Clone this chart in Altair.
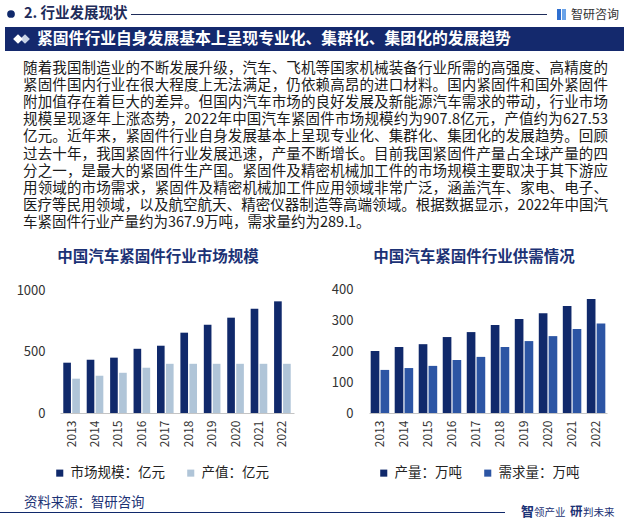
import altair as alt
import pandas as pd

# ---------------- data ----------------
years = [str(y) for y in range(2013, 2023)]
market_size = [409, 433, 450, 522, 547, 653, 718, 775, 848, 907.8]
output_value = [279, 303, 327, 368, 400, 400, 400, 400, 400, 400]
production = [200, 213, 222, 245, 261, 284, 303, 322, 345, 367.9]
demand = [139, 145, 152, 171, 181, 213, 232, 248, 271, 289.1]

left_series = ["市场规模：亿元", "产值：亿元"]
right_series = ["产量：万吨", "需求量：万吨"]
left_ticks = [0, 500, 1000]
right_ticks = [0, 100, 200, 300, 400]

section_title = "2. 行业发展现状"
banner_title = "紧固件行业自身发展基本上呈现专业化、集群化、集团化的发展趋势"
left_title = "中国汽车紧固件行业市场规模"
right_title = "中国汽车紧固件行业供需情况"
logo_text = "智研咨询"
source_text = "资料来源：智研咨询"
paragraph = [
    "随着我国制造业的不断发展升级，汽车、飞机等国家机械装备行业所需的高强度、高精度的",
    "紧固件国内行业在很大程度上无法满足，仍依赖高昂的进口材料。国内紧固件和国外紧固件",
    "附加值存在着巨大的差异。但国内汽车市场的良好发展及新能源汽车需求的带动，行业市场",
    "规模呈现逐年上涨态势，2022年中国汽车紧固件市场规模约为907.8亿元，产值约为627.53",
    "亿元。近年来，紧固件行业自身发展基本上呈现专业化、集群化、集团化的发展趋势。回顾",
    "过去十年，我国紧固件行业发展迅速，产量不断增长。目前我国紧固件产量占全球产量的四",
    "分之一，是最大的紧固件生产国。紧固件及精密机械加工件的市场规模主要取决于其下游应",
    "用领域的市场需求，紧固件及精密机械加工件应用领域非常广泛，涵盖汽车、家电、电子、",
    "医疗等民用领域，以及航空航天、精密仪器制造等高端领域。根据数据显示，2022年中国汽",
    "车紧固件行业产量约为367.9万吨，需求量约为289.1。",
]

FONT = "Noto Sans CJK SC"
NAVY = "#10296b"
LIGHT = "#b0c5d8"
MED = "#2c55a4"
BANNER = "#14296d"
TITLE = "#1c3275"
TEXT = "#1a1a1a"

df_left = pd.DataFrame(
    {"year": years * 2,
     "series": [left_series[0]] * 10 + [left_series[1]] * 10,
     "value": market_size + output_value})
df_right = pd.DataFrame(
    {"year": years * 2,
     "series": [right_series[0]] * 10 + [right_series[1]] * 10,
     "value": production + demand})

one = pd.DataFrame({"k": [0]})


def txt(s, x, y, size, color, weight="normal", align="left"):
    return alt.Chart(one).mark_text(
        text=s, fontSize=size, color=color, fontWeight=weight,
        align=align, baseline="middle", font=FONT).encode(x=alt.value(x), y=alt.value(y))


def rect(x1, x2, y1, y2, color):
    return alt.Chart(one).mark_rect(color=color).encode(
        x=alt.value(x1), x2=alt.value(x2), y=alt.value(y1), y2=alt.value(y2))


layers = []

# header
layers.append(alt.Chart(one).mark_circle(color=NAVY, size=60, opacity=1).encode(
    x=alt.value(11), y=alt.value(14)))
layers.append(txt(section_title, 24, 14, 14.5, "#1e2c5a", "bold"))
layers.append(rect(131, 547, 14, 15, "#1e2c5a"))
layers.append(rect(557, 561, 9, 20, "#2f6fd0"))
layers.append(rect(562, 566, 9, 20, "#6aa3e8"))
layers.append(txt(logo_text, 571, 14.5, 12, "#333333"))

# banner
layers.append(rect(5, 624, 27, 51, BANNER))
layers.append(alt.Chart(one).mark_point(shape="diamond", filled=True, size=95,
                                        color="#c9d3e6", opacity=1).encode(
    x=alt.value(25), y=alt.value(39)))
layers.append(alt.Chart(one).mark_point(shape="diamond", filled=True, size=95,
                                        color="#ffffff", opacity=1).encode(
    x=alt.value(18), y=alt.value(39)))
layers.append(txt(banner_title, 37, 39, 15.8, "#ffffff", "bold"))

# paragraph: justified layout, one glyph per row
FS = 14.5
LEFT_X, RIGHT_X, TOP_Y, LINE_H = 23, 608, 69, 17.1


def glyph_w(c):
    if c.isdigit():
        return 0.554 * FS
    if c == ".":
        return 0.27 * FS
    return FS


rows = []
for i, line in enumerate(paragraph):
    widths = [glyph_w(c) for c in line]
    natural = sum(widths)
    last = i == len(paragraph) - 1
    gap = 0 if last else (RIGHT_X - LEFT_X - natural) / max(len(line) - 1, 1)
    x = LEFT_X
    for c, w in zip(line, widths):
        rows.append({"ch": c, "px": x, "py": TOP_Y + i * LINE_H})
        x += w + gap
para_df = pd.DataFrame(rows)
layers.append(alt.Chart(para_df).mark_text(
    fontSize=FS, color=TEXT, align="left", baseline="middle", font=FONT).encode(
    x=alt.X("px:Q", scale=None), y=alt.Y("py:Q", scale=None), text="ch:N"))

# chart titles
layers.append(txt(left_title, 158, 257, 15.5, TITLE, "bold", "center"))
layers.append(txt(right_title, 474, 257, 15.5, TITLE, "bold", "center"))

axis_common = dict(labelFont=FONT, labelColor="#333333", grid=False, ticks=False, title=None)

left_bars = alt.Chart(df_left).mark_bar().encode(
    x=alt.X("year:N", sort=years,
            scale=alt.Scale(range=[60, 294], paddingInner=0.29, paddingOuter=0.14),
            axis=alt.Axis(orient="bottom", offset=-112, labelAngle=270, labelFontSize=12,
                          labelPadding=7, domainColor="#c4c4c4", **axis_common)),
    xOffset=alt.XOffset("series:N", sort=left_series,
                        scale=alt.Scale(domain=left_series, paddingInner=0.15)),
    y=alt.Y("value:Q", scale=alt.Scale(domain=[0, 1000], range=[413, 290], nice=False),
            axis=alt.Axis(orient="left", offset=-50, values=left_ticks, format="d",
                          labelFontSize=13, labelPadding=5, domain=False, **axis_common)),
    color=alt.Color("series:N", sort=left_series,
                    scale=alt.Scale(domain=left_series, range=[NAVY, LIGHT]),
                    legend=alt.Legend(orient="none", legendX=53, legendY=466,
                                      direction="horizontal", title=None,
                                      symbolType="square", symbolSize=50,
                                      symbolStrokeWidth=0, labelFont=FONT,
                                      labelFontSize=13.5, labelColor="#222222",
                                      columnPadding=19, labelOffset=4)),
)

right_bars = alt.Chart(df_right).mark_bar().encode(
    x=alt.X("year:N", sort=years,
            scale=alt.Scale(range=[369, 607], paddingInner=0.23, paddingOuter=0.07),
            axis=alt.Axis(orient="bottom", offset=-112, labelAngle=270, labelFontSize=12,
                          labelPadding=7, domainColor="#c4c4c4", **axis_common)),
    xOffset=alt.XOffset("series:N", sort=right_series,
                        scale=alt.Scale(domain=right_series, paddingInner=0.12)),
    y=alt.Y("value:Q", scale=alt.Scale(domain=[0, 400], range=[413, 289], nice=False),
            axis=alt.Axis(orient="left", offset=-358, values=right_ticks, format="d",
                          labelFontSize=13, labelPadding=5, domain=False, **axis_common)),
    color=alt.Color("series:N", sort=right_series,
                    scale=alt.Scale(domain=right_series, range=[NAVY, MED]),
                    legend=alt.Legend(orient="none", legendX=377, legendY=466,
                                      direction="horizontal", title=None,
                                      symbolType="square", symbolSize=50,
                                      symbolStrokeWidth=0, labelFont=FONT,
                                      labelFontSize=13.5, labelColor="#222222",
                                      columnPadding=19, labelOffset=4)),
)

layers += [left_bars, right_bars]

# footer
layers.append(txt(source_text, 24, 503, 13.4, TITLE))
layers.append(rect(0, 505, 512, 513, NAVY))
layers.append(txt("智", 521, 512, 13, TITLE, "bold"))
layers.append(txt("领产业", 534, 513, 10.5, TITLE))
layers.append(txt("研", 570, 512, 12.5, TITLE, "bold"))
layers.append(txt("判未来", 583, 513, 10.5, TITLE))

chart = alt.layer(*layers).properties(
    width=631, height=525, padding=0,
    autosize=alt.AutoSizeParams(type="none"), background="white",
).resolve_scale(
    x="independent", y="independent", color="independent", xOffset="independent"
).resolve_axis(x="independent", y="independent").resolve_legend(
    color="independent"
).configure_view(stroke=None)

chart.save("out.html", embed_options={"renderer": "svg", "actions": False})
